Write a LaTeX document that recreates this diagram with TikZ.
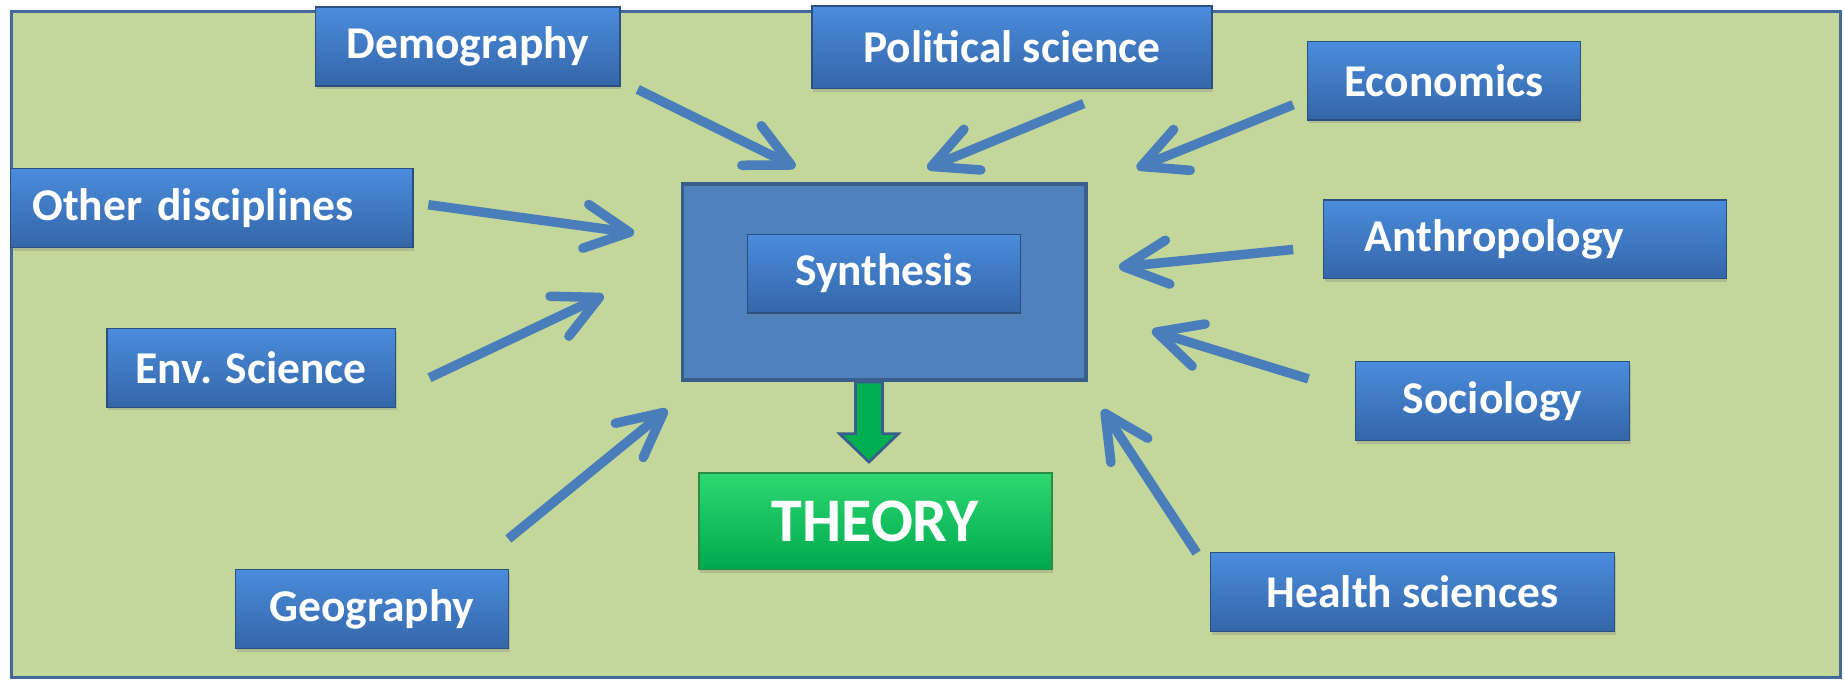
\documentclass[tikz,border=0pt]{standalone}
\usepackage{fontspec}
\setmainfont{Carlito}
\usepackage{tikz}
\usetikzlibrary{positioning,arrows.meta,calc,shadows}

\definecolor{panelgreen}{HTML}{C4D79B}
\definecolor{panelline}{HTML}{41699A}
\definecolor{hubfill}{HTML}{4F81BD}
\definecolor{hubline}{HTML}{3A5E8C}
\definecolor{feedblue}{HTML}{4A7EBB}
\definecolor{disctop}{HTML}{4A8CDC}
\definecolor{discbot}{HTML}{3466A8}
\definecolor{discline}{HTML}{2B4F80}
\definecolor{theorytop}{HTML}{2ED872}
\definecolor{theorybot}{HTML}{00A84C}
\definecolor{theoryline}{HTML}{2E8B45}
\definecolor{yieldgreen}{HTML}{00B050}

\begin{document}
\begin{tikzpicture}[
    x=0.02cm, y=-0.02cm,
    panel/.style={draw=panelline, fill=panelgreen, line width=1.6pt},
    hub/.style={rectangle, draw=hubline, fill=hubfill, line width=1.9pt, minimum width=6.86cm, minimum height=3.34cm},
    disc/.style={rectangle, draw=discline, top color=disctop, bottom color=discbot, minimum height=1.34cm, inner sep=2pt, text=white, font=\fontsize{22}{26}\selectfont\bfseries, line width=0.6pt, drop shadow={shadow xshift=0.6pt, shadow yshift=-1.6pt, opacity=0.3}},
    theory/.style={rectangle, draw=theoryline, top color=theorytop, bottom color=theorybot, minimum width=6.0cm, minimum height=1.64cm, text=white, font=\fontsize{30}{34}\selectfont\bfseries, line width=0.6pt, drop shadow={shadow xshift=0.6pt, shadow yshift=-1.6pt, opacity=0.3}},
    feed/.style={-{Straight Barb[length=7.5mm, width=7.5mm, round]}, line width=4.6pt, draw=feedblue},
    yield/.style={fill=yieldgreen, draw=hubline, line width=1.3pt, line join=miter}
]
\useasboundingbox (0,0) rectangle (1568,578);

% Background panel
\draw[panel] (10,10) rectangle (1564,576);

% Centre: synthesis block
\node[hub] (hub) at (751.5,239.5) {};

% Arrow ends
\coordinate (demog-tail) at (542,76);    \coordinate (demog-head) at (676,142);
\coordinate (polsci-tail) at (921,88);   \coordinate (polsci-head) at (788,143);
\coordinate (econ-tail) at (1099,89);    \coordinate (econ-head) at (966,143);
\coordinate (other-tail) at (364,174);   \coordinate (other-head) at (539,198);
\coordinate (anthro-tail) at (1099,212); \coordinate (anthro-head) at (951,227);
\coordinate (env-tail) at (365,321);     \coordinate (env-head) at (513,251);
\coordinate (socio-tail) at (1112,322);  \coordinate (socio-head) at (979,281);
\coordinate (geo-tail) at (432,458);     \coordinate (geo-head) at (567,348);
\coordinate (health-tail) at (1017,470); \coordinate (health-head) at (937,348);

% Arrows into the synthesis
\draw[feed] (demog-tail) -- (demog-head);
\draw[feed] (polsci-tail) -- (polsci-head);
\draw[feed] (econ-tail) -- (econ-head);
\draw[feed] (other-tail) -- (other-head);
\draw[feed] (anthro-tail) -- (anthro-head);
\draw[feed] (env-tail) -- (env-head);
\draw[feed] (socio-tail) -- (socio-head);
\draw[feed] (geo-tail) -- (geo-head);
\draw[feed] (health-tail) -- (health-head);

% Disciplines, left column
\node[disc, minimum width=5.18cm] (demog) at (397.5,39.5) {Demography};
\node[disc, text width=6.1cm, inner xsep=0.37cm, align=left] (other) at (180,177) {Other disciplines};
\node[disc, minimum width=4.9cm] (env) at (213.5,312.5) {Env. Science};
\node[disc, minimum width=4.64cm] (geo) at (316,517.5) {Geography};

% Disciplines, top and right
\node[disc, minimum width=6.8cm, minimum height=1.4cm] (polsci) at (860,40) {Political science};
\node[disc, minimum width=4.64cm] (econ) at (1227,68.5) {Economics};
\node[disc, text width=5.44cm, inner xsep=0.7cm, align=left] (anthro) at (1296,203.5) {Anthropology};
\node[disc, minimum width=4.66cm] (socio) at (1268.5,341) {Sociology};
\node[disc, minimum width=6.86cm] (health) at (1200.5,503) {Health sciences};

% Synthesis and theory
\node[disc, minimum width=4.64cm] (synth) at (751,232.5) {Synthesis};
\node[theory] (theory) at (744,443) {THEORY};

% Block arrow down to theory
\coordinate (drop) at ($(hub.south)+(-13,0)$);
\filldraw[yield] ($(drop)+(-11.5,0)$) -- ++(0,44) -- ++(-13.5,0) -- ($(drop)+(0,68)$)
    -- ++(25,-24) -- ++(-13.5,0) -- ++(0,-44) -- cycle;

\end{tikzpicture}
\end{document}
